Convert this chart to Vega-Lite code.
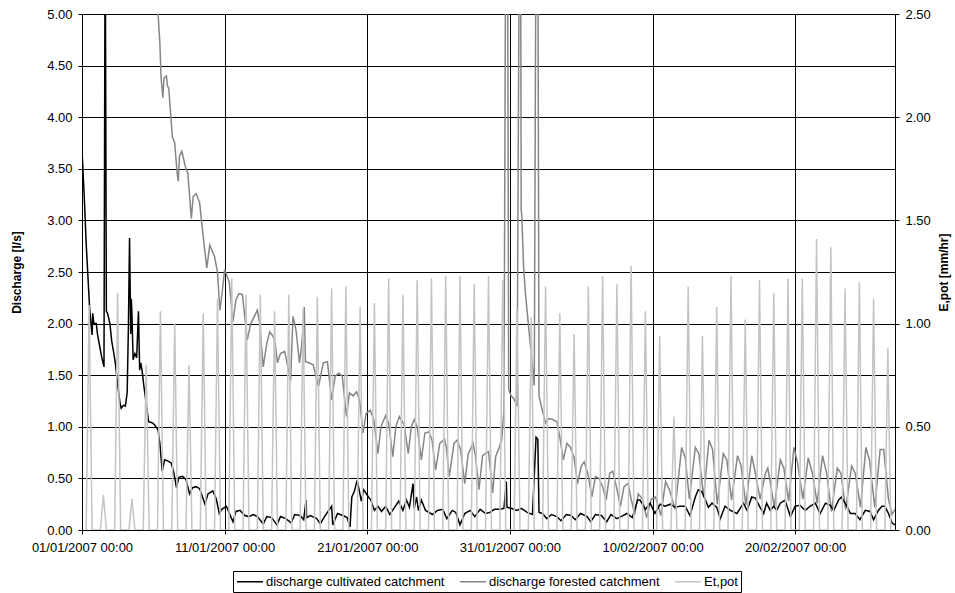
{
"$schema":"https://vega.github.io/schema/vega-lite/v6.json",
"width":813,"height":516,
"autosize":{"type":"none"},
"padding":{"left":82,"top":14,"right":60,"bottom":63},
"config":{
"font":"Liberation Sans",
"view":{"stroke":"#000","strokeWidth":1},
"axis":{"labelFont":"Liberation Sans","labelFontSize":13,"labelColor":"#000","titleFont":"Liberation Sans","titleFontSize":12,"titleFontWeight":"bold","titleColor":"#000","domainColor":"#000","tickColor":"#000","gridColor":"#000","gridOpacity":1,"gridWidth":1,"tickSize":4,"domainWidth":1}
},
"datasets":{
"cult":[
{"t":"2007-01-01T00:00","v":3.68},{"t":"2007-01-01T04:00","v":3.2},{"t":"2007-01-01T07:00","v":2.78},{"t":"2007-01-01T13:00","v":2.13},{"t":"2007-01-01T17:00","v":1.89},{"t":"2007-01-01T18:00","v":2.1},{"t":"2007-01-01T20:00","v":2.0},{"t":"2007-01-02T00:00","v":2.0},{"t":"2007-01-02T02:00","v":1.9},{"t":"2007-01-02T09:00","v":1.68},{"t":"2007-01-02T13:00","v":1.58},{"t":"2007-01-02T15:00","v":6.0},{"t":"2007-01-02T17:00","v":2.12},{"t":"2007-01-02T19:00","v":2.1},{"t":"2007-01-02T23:00","v":2.0},
{"t":"2007-01-03T02:00","v":1.83},{"t":"2007-01-03T05:00","v":1.73},{"t":"2007-01-03T08:00","v":1.62},{"t":"2007-01-03T12:00","v":1.41},{"t":"2007-01-03T16:00","v":1.23},{"t":"2007-01-03T18:00","v":1.18},{"t":"2007-01-03T22:00","v":1.21},
{"t":"2007-01-04T01:00","v":1.2},{"t":"2007-01-04T04:00","v":1.33},{"t":"2007-01-04T06:00","v":1.94},{"t":"2007-01-04T08:00","v":2.83},{"t":"2007-01-04T10:00","v":1.9},{"t":"2007-01-04T11:00","v":2.24},{"t":"2007-01-04T12:00","v":2.1},{"t":"2007-01-04T14:00","v":1.65},{"t":"2007-01-04T17:00","v":1.71},{"t":"2007-01-04T20:00","v":1.67},{"t":"2007-01-04T23:00","v":2.12},
{"t":"2007-01-05T01:00","v":1.55},{"t":"2007-01-05T03:00","v":1.62},{"t":"2007-01-05T05:00","v":1.55},{"t":"2007-01-05T08:00","v":1.4},{"t":"2007-01-05T12:00","v":1.23},{"t":"2007-01-05T16:00","v":1.05},{"t":"2007-01-05T22:00","v":1.04},
{"t":"2007-01-06T02:00","v":1.02},{"t":"2007-01-06T08:00","v":0.97},{"t":"2007-01-06T11:00","v":0.84},{"t":"2007-01-06T15:00","v":0.57},{"t":"2007-01-06T19:00","v":0.68},
{"t":"2007-01-07T00:00","v":0.67},{"t":"2007-01-07T06:00","v":0.65},{"t":"2007-01-07T10:00","v":0.57},{"t":"2007-01-07T15:00","v":0.41},{"t":"2007-01-07T19:00","v":0.51},
{"t":"2007-01-08T01:00","v":0.52},{"t":"2007-01-08T07:00","v":0.49},{"t":"2007-01-08T13:00","v":0.35},{"t":"2007-01-08T18:00","v":0.41},
{"t":"2007-01-09T00:00","v":0.42},{"t":"2007-01-09T06:00","v":0.4},{"t":"2007-01-09T15:00","v":0.25},{"t":"2007-01-09T20:00","v":0.35},
{"t":"2007-01-10T04:00","v":0.38},{"t":"2007-01-10T10:00","v":0.3},{"t":"2007-01-10T15:00","v":0.16},{"t":"2007-01-10T19:00","v":0.2},
{"t":"2007-01-11T03:00","v":0.23},{"t":"2007-01-11T14:00","v":0.08},{"t":"2007-01-11T19:00","v":0.18},
{"t":"2007-01-12T02:00","v":0.19},{"t":"2007-01-12T10:00","v":0.14},{"t":"2007-01-12T17:00","v":0.13},
{"t":"2007-01-13T00:00","v":0.15},{"t":"2007-01-13T07:00","v":0.13},{"t":"2007-01-13T17:00","v":0.06},{"t":"2007-01-13T23:00","v":0.13},
{"t":"2007-01-14T07:00","v":0.12},{"t":"2007-01-14T16:00","v":0.05},{"t":"2007-01-14T22:00","v":0.13},
{"t":"2007-01-15T07:00","v":0.11},{"t":"2007-01-15T16:00","v":0.07},{"t":"2007-01-15T22:00","v":0.15},
{"t":"2007-01-16T07:00","v":0.14},{"t":"2007-01-16T13:00","v":0.1},{"t":"2007-01-16T17:00","v":0.29},{"t":"2007-01-16T18:00","v":0.12},
{"t":"2007-01-17T00:00","v":0.14},{"t":"2007-01-17T11:00","v":0.11},{"t":"2007-01-17T17:00","v":0.06},
{"t":"2007-01-18T00:00","v":0.13},{"t":"2007-01-18T12:00","v":0.23},{"t":"2007-01-18T14:00","v":0.05},{"t":"2007-01-18T22:00","v":0.16},
{"t":"2007-01-19T07:00","v":0.14},{"t":"2007-01-19T14:00","v":0.12},{"t":"2007-01-19T19:00","v":0.03},{"t":"2007-01-19T22:00","v":0.32},
{"t":"2007-01-20T02:00","v":0.37},{"t":"2007-01-20T07:00","v":0.48},{"t":"2007-01-20T11:00","v":0.37},{"t":"2007-01-20T14:00","v":0.28},{"t":"2007-01-20T18:00","v":0.39},
{"t":"2007-01-21T02:00","v":0.32},{"t":"2007-01-21T06:00","v":0.29},{"t":"2007-01-21T12:00","v":0.19},{"t":"2007-01-21T18:00","v":0.23},
{"t":"2007-01-22T00:00","v":0.18},{"t":"2007-01-22T07:00","v":0.23},{"t":"2007-01-22T14:00","v":0.15},{"t":"2007-01-22T22:00","v":0.22},
{"t":"2007-01-23T05:00","v":0.28},{"t":"2007-01-23T12:00","v":0.19},{"t":"2007-01-23T18:00","v":0.29},{"t":"2007-01-23T23:00","v":0.22},
{"t":"2007-01-24T05:00","v":0.45},{"t":"2007-01-24T07:00","v":0.21},{"t":"2007-01-24T11:00","v":0.32},{"t":"2007-01-24T14:00","v":0.19},{"t":"2007-01-24T19:00","v":0.29},
{"t":"2007-01-25T02:00","v":0.19},{"t":"2007-01-25T14:00","v":0.15},{"t":"2007-01-25T22:00","v":0.19},
{"t":"2007-01-26T07:00","v":0.2},{"t":"2007-01-26T14:00","v":0.11},{"t":"2007-01-26T23:00","v":0.19},
{"t":"2007-01-27T05:00","v":0.17},{"t":"2007-01-27T12:00","v":0.05},{"t":"2007-01-27T20:00","v":0.16},
{"t":"2007-01-28T05:00","v":0.19},{"t":"2007-01-28T13:00","v":0.13},{"t":"2007-01-28T22:00","v":0.2},
{"t":"2007-01-29T07:00","v":0.16},{"t":"2007-01-29T14:00","v":0.17},{"t":"2007-01-29T22:00","v":0.2},
{"t":"2007-01-30T07:00","v":0.2},{"t":"2007-01-30T14:00","v":0.21},{"t":"2007-01-30T18:00","v":0.47},{"t":"2007-01-30T19:00","v":0.22},
{"t":"2007-01-31T02:00","v":0.21},{"t":"2007-01-31T12:00","v":0.19},{"t":"2007-01-31T19:00","v":0.21},
{"t":"2007-02-01T05:00","v":0.17},{"t":"2007-02-01T14:00","v":0.15},{"t":"2007-02-01T20:00","v":0.9},{"t":"2007-02-01T23:00","v":0.88},
{"t":"2007-02-02T01:00","v":0.17},{"t":"2007-02-02T07:00","v":0.16},{"t":"2007-02-02T14:00","v":0.11},{"t":"2007-02-02T22:00","v":0.15},
{"t":"2007-02-03T07:00","v":0.13},{"t":"2007-02-03T14:00","v":0.09},{"t":"2007-02-03T23:00","v":0.15},
{"t":"2007-02-04T07:00","v":0.14},{"t":"2007-02-04T14:00","v":0.1},{"t":"2007-02-04T23:00","v":0.16},
{"t":"2007-02-05T10:00","v":0.13},{"t":"2007-02-05T16:00","v":0.08},
{"t":"2007-02-06T00:00","v":0.15},{"t":"2007-02-06T10:00","v":0.14},{"t":"2007-02-06T19:00","v":0.08},
{"t":"2007-02-07T02:00","v":0.15},{"t":"2007-02-07T12:00","v":0.11},{"t":"2007-02-07T19:00","v":0.13},
{"t":"2007-02-08T05:00","v":0.16},{"t":"2007-02-08T14:00","v":0.12},{"t":"2007-02-08T23:00","v":0.29},
{"t":"2007-02-09T03:00","v":0.29},{"t":"2007-02-09T12:00","v":0.2},{"t":"2007-02-09T20:00","v":0.26},
{"t":"2007-02-10T04:00","v":0.16},{"t":"2007-02-10T13:00","v":0.25},{"t":"2007-02-10T21:00","v":0.23},
{"t":"2007-02-11T06:00","v":0.25},{"t":"2007-02-11T14:00","v":0.22},{"t":"2007-02-11T22:00","v":0.23},
{"t":"2007-02-12T07:00","v":0.23},{"t":"2007-02-12T15:00","v":0.14},
{"t":"2007-02-13T00:00","v":0.32},{"t":"2007-02-13T05:00","v":0.39},{"t":"2007-02-13T11:00","v":0.37},{"t":"2007-02-13T17:00","v":0.29},{"t":"2007-02-13T22:00","v":0.22},
{"t":"2007-02-14T04:00","v":0.26},{"t":"2007-02-14T12:00","v":0.22},{"t":"2007-02-14T18:00","v":0.11},
{"t":"2007-02-15T02:00","v":0.23},{"t":"2007-02-15T11:00","v":0.19},{"t":"2007-02-15T22:00","v":0.16},
{"t":"2007-02-16T09:00","v":0.26},{"t":"2007-02-16T15:00","v":0.19},{"t":"2007-02-16T23:00","v":0.32},
{"t":"2007-02-17T05:00","v":0.31},{"t":"2007-02-17T13:00","v":0.22},{"t":"2007-02-17T19:00","v":0.16},
{"t":"2007-02-18T00:00","v":0.26},{"t":"2007-02-18T06:00","v":0.19},{"t":"2007-02-18T12:00","v":0.23},{"t":"2007-02-18T17:00","v":0.19},{"t":"2007-02-18T23:00","v":0.26},
{"t":"2007-02-19T07:00","v":0.29},{"t":"2007-02-19T16:00","v":0.13},
{"t":"2007-02-20T00:00","v":0.23},{"t":"2007-02-20T08:00","v":0.24},{"t":"2007-02-20T17:00","v":0.19},
{"t":"2007-02-21T01:00","v":0.23},{"t":"2007-02-21T10:00","v":0.26},{"t":"2007-02-21T18:00","v":0.16},
{"t":"2007-02-22T03:00","v":0.26},{"t":"2007-02-22T11:00","v":0.24},{"t":"2007-02-22T17:00","v":0.19},
{"t":"2007-02-23T01:00","v":0.29},{"t":"2007-02-23T06:00","v":0.32},{"t":"2007-02-23T15:00","v":0.23},{"t":"2007-02-23T21:00","v":0.16},
{"t":"2007-02-24T05:00","v":0.16},{"t":"2007-02-24T13:00","v":0.1},{"t":"2007-02-24T22:00","v":0.19},
{"t":"2007-02-25T06:00","v":0.18},{"t":"2007-02-25T12:00","v":0.1},{"t":"2007-02-25T20:00","v":0.19},
{"t":"2007-02-26T02:00","v":0.23},{"t":"2007-02-26T07:00","v":0.23},{"t":"2007-02-26T13:00","v":0.16},{"t":"2007-02-26T19:00","v":0.07},
{"t":"2007-02-27T00:00","v":0.05}
],
"forest":[
{"t":"2007-01-01T00:00","v":8.0},{"t":"2007-01-03T12:00","v":6.5},{"t":"2007-01-06T08:00","v":5.0},{"t":"2007-01-06T11:00","v":4.72},{"t":"2007-01-06T13:00","v":4.39},{"t":"2007-01-06T16:00","v":4.19},{"t":"2007-01-06T18:00","v":4.38},{"t":"2007-01-06T22:00","v":4.4},
{"t":"2007-01-07T00:00","v":4.3},{"t":"2007-01-07T02:00","v":4.28},{"t":"2007-01-07T08:00","v":3.81},{"t":"2007-01-07T12:00","v":3.75},{"t":"2007-01-07T16:00","v":3.46},{"t":"2007-01-07T18:00","v":3.38},{"t":"2007-01-07T20:00","v":3.62},
{"t":"2007-01-08T00:00","v":3.67},{"t":"2007-01-08T06:00","v":3.52},{"t":"2007-01-08T10:00","v":3.46},{"t":"2007-01-08T16:00","v":3.02},{"t":"2007-01-08T19:00","v":3.23},
{"t":"2007-01-09T00:00","v":3.26},{"t":"2007-01-09T06:00","v":3.17},{"t":"2007-01-09T12:00","v":2.84},{"t":"2007-01-09T18:00","v":2.54},{"t":"2007-01-09T23:00","v":2.76},
{"t":"2007-01-10T02:00","v":2.72},{"t":"2007-01-10T07:00","v":2.65},{"t":"2007-01-10T12:00","v":2.5},{"t":"2007-01-10T16:00","v":2.13},{"t":"2007-01-10T19:00","v":2.26},
{"t":"2007-01-11T00:00","v":2.52},{"t":"2007-01-11T05:00","v":2.45},{"t":"2007-01-11T08:00","v":2.39},{"t":"2007-01-11T14:00","v":2.02},{"t":"2007-01-11T19:00","v":2.23},
{"t":"2007-01-12T00:00","v":2.29},{"t":"2007-01-12T06:00","v":2.28},{"t":"2007-01-12T14:00","v":1.84},{"t":"2007-01-12T20:00","v":2.0},
{"t":"2007-01-13T02:00","v":2.07},{"t":"2007-01-13T07:00","v":2.13},{"t":"2007-01-13T11:00","v":2.0},{"t":"2007-01-13T17:00","v":1.58},{"t":"2007-01-13T23:00","v":1.81},
{"t":"2007-01-14T04:00","v":1.92},{"t":"2007-01-14T10:00","v":1.87},{"t":"2007-01-14T13:00","v":1.81},{"t":"2007-01-14T17:00","v":1.62},{"t":"2007-01-14T22:00","v":1.71},
{"t":"2007-01-15T05:00","v":1.73},{"t":"2007-01-15T15:00","v":1.45},{"t":"2007-01-15T19:00","v":2.07},{"t":"2007-01-15T22:00","v":2.0},
{"t":"2007-01-16T00:00","v":1.94},{"t":"2007-01-16T06:00","v":1.62},{"t":"2007-01-16T10:00","v":1.81},{"t":"2007-01-16T14:00","v":2.16},{"t":"2007-01-16T16:00","v":1.63},{"t":"2007-01-16T22:00","v":1.62},
{"t":"2007-01-17T05:00","v":1.6},{"t":"2007-01-17T14:00","v":1.39},{"t":"2007-01-17T22:00","v":1.62},
{"t":"2007-01-18T05:00","v":1.63},{"t":"2007-01-18T12:00","v":1.26},{"t":"2007-01-18T18:00","v":1.49},
{"t":"2007-01-19T00:00","v":1.52},{"t":"2007-01-19T06:00","v":1.49},{"t":"2007-01-19T13:00","v":1.1},{"t":"2007-01-19T18:00","v":1.33},
{"t":"2007-01-20T00:00","v":1.3},{"t":"2007-01-20T06:00","v":1.34},{"t":"2007-01-20T11:00","v":1.26},{"t":"2007-01-20T17:00","v":0.94},{"t":"2007-01-20T22:00","v":1.13},
{"t":"2007-01-21T05:00","v":1.16},{"t":"2007-01-21T11:00","v":1.07},{"t":"2007-01-21T18:00","v":0.74},{"t":"2007-01-21T23:00","v":1.0},
{"t":"2007-01-22T07:00","v":1.11},{"t":"2007-01-22T12:00","v":1.03},{"t":"2007-01-22T19:00","v":0.71},
{"t":"2007-01-23T00:00","v":1.0},{"t":"2007-01-23T06:00","v":1.1},{"t":"2007-01-23T14:00","v":1.02},{"t":"2007-01-23T21:00","v":0.74},
{"t":"2007-01-24T02:00","v":1.0},{"t":"2007-01-24T07:00","v":1.07},{"t":"2007-01-24T12:00","v":1.0},{"t":"2007-01-24T19:00","v":0.68},
{"t":"2007-01-25T01:00","v":0.94},{"t":"2007-01-25T08:00","v":0.95},{"t":"2007-01-25T13:00","v":0.87},{"t":"2007-01-25T19:00","v":0.58},
{"t":"2007-01-26T02:00","v":0.84},{"t":"2007-01-26T10:00","v":0.88},{"t":"2007-01-26T13:00","v":0.8},{"t":"2007-01-26T18:00","v":0.52},
{"t":"2007-01-27T02:00","v":0.84},{"t":"2007-01-27T07:00","v":0.87},{"t":"2007-01-27T13:00","v":0.78},{"t":"2007-01-27T20:00","v":0.45},
{"t":"2007-01-28T02:00","v":0.74},{"t":"2007-01-28T10:00","v":0.84},{"t":"2007-01-28T14:00","v":0.72},{"t":"2007-01-28T20:00","v":0.39},
{"t":"2007-01-29T02:00","v":0.72},{"t":"2007-01-29T07:00","v":0.74},{"t":"2007-01-29T12:00","v":0.76},{"t":"2007-01-29T14:00","v":0.65},{"t":"2007-01-29T19:00","v":0.36},
{"t":"2007-01-30T00:00","v":0.71},{"t":"2007-01-30T06:00","v":0.8},{"t":"2007-01-30T10:00","v":0.87},{"t":"2007-01-30T14:00","v":1.16},{"t":"2007-01-30T17:00","v":6.0},{"t":"2007-01-30T20:00","v":6.0},{"t":"2007-01-30T22:00","v":1.36},
{"t":"2007-01-31T02:00","v":1.3},{"t":"2007-01-31T07:00","v":1.27},{"t":"2007-01-31T12:00","v":1.2},{"t":"2007-01-31T16:00","v":6.0},{"t":"2007-01-31T18:00","v":6.0},{"t":"2007-01-31T19:00","v":3.1},{"t":"2007-01-31T20:00","v":3.04},{"t":"2007-01-31T23:00","v":2.56},
{"t":"2007-02-01T02:00","v":2.3},{"t":"2007-02-01T07:00","v":2.0},{"t":"2007-02-01T12:00","v":1.7},{"t":"2007-02-01T17:00","v":1.4},{"t":"2007-02-01T20:00","v":6.0},{"t":"2007-02-01T23:00","v":6.0},
{"t":"2007-02-02T01:00","v":1.3},{"t":"2007-02-02T07:00","v":1.15},{"t":"2007-02-02T12:00","v":1.04},{"t":"2007-02-02T17:00","v":1.08},
{"t":"2007-02-03T00:00","v":1.07},{"t":"2007-02-03T07:00","v":1.05},{"t":"2007-02-03T12:00","v":0.9},{"t":"2007-02-03T18:00","v":0.68},
{"t":"2007-02-04T00:00","v":0.84},{"t":"2007-02-04T06:00","v":0.8},{"t":"2007-02-04T12:00","v":0.7},{"t":"2007-02-04T18:00","v":0.45},
{"t":"2007-02-05T00:00","v":0.62},{"t":"2007-02-05T05:00","v":0.66},{"t":"2007-02-05T11:00","v":0.55},{"t":"2007-02-05T18:00","v":0.32},
{"t":"2007-02-06T00:00","v":0.52},{"t":"2007-02-06T06:00","v":0.5},{"t":"2007-02-06T12:00","v":0.42},{"t":"2007-02-06T18:00","v":0.29},
{"t":"2007-02-07T00:00","v":0.55},{"t":"2007-02-07T05:00","v":0.57},{"t":"2007-02-07T12:00","v":0.4},{"t":"2007-02-07T18:00","v":0.23},
{"t":"2007-02-08T00:00","v":0.42},{"t":"2007-02-08T07:00","v":0.45},{"t":"2007-02-08T12:00","v":0.3},{"t":"2007-02-08T18:00","v":0.15},
{"t":"2007-02-09T00:00","v":0.35},{"t":"2007-02-09T07:00","v":0.3},{"t":"2007-02-09T14:00","v":0.12},{"t":"2007-02-09T22:00","v":0.3},
{"t":"2007-02-10T05:00","v":0.32},{"t":"2007-02-10T14:00","v":0.14},{"t":"2007-02-10T22:00","v":0.47},
{"t":"2007-02-11T05:00","v":0.38},{"t":"2007-02-11T14:00","v":0.2},
{"t":"2007-02-12T01:00","v":0.8},{"t":"2007-02-12T07:00","v":0.7},{"t":"2007-02-12T14:00","v":0.3},
{"t":"2007-02-13T00:00","v":0.8},{"t":"2007-02-13T06:00","v":0.74},{"t":"2007-02-13T14:00","v":0.32},{"t":"2007-02-13T23:00","v":0.87},
{"t":"2007-02-14T05:00","v":0.78},{"t":"2007-02-14T13:00","v":0.25},{"t":"2007-02-14T23:00","v":0.74},
{"t":"2007-02-15T05:00","v":0.68},{"t":"2007-02-15T13:00","v":0.29},{"t":"2007-02-15T23:00","v":0.72},
{"t":"2007-02-16T05:00","v":0.62},{"t":"2007-02-16T13:00","v":0.24},{"t":"2007-02-16T23:00","v":0.72},
{"t":"2007-02-17T05:00","v":0.55},{"t":"2007-02-17T13:00","v":0.3},{"t":"2007-02-17T22:00","v":0.55},
{"t":"2007-02-18T02:00","v":0.6},{"t":"2007-02-18T13:00","v":0.22},{"t":"2007-02-18T23:00","v":0.68},
{"t":"2007-02-19T05:00","v":0.6},{"t":"2007-02-19T13:00","v":0.28},{"t":"2007-02-19T22:00","v":0.8},
{"t":"2007-02-20T04:00","v":0.65},{"t":"2007-02-20T13:00","v":0.3},{"t":"2007-02-20T22:00","v":0.7},
{"t":"2007-02-21T05:00","v":0.55},{"t":"2007-02-21T13:00","v":0.26},{"t":"2007-02-21T22:00","v":0.72},
{"t":"2007-02-22T05:00","v":0.55},{"t":"2007-02-22T13:00","v":0.18},{"t":"2007-02-22T23:00","v":0.6},
{"t":"2007-02-23T05:00","v":0.55},{"t":"2007-02-23T13:00","v":0.2},{"t":"2007-02-23T23:00","v":0.62},
{"t":"2007-02-24T05:00","v":0.55},{"t":"2007-02-24T14:00","v":0.22},{"t":"2007-02-24T23:00","v":0.8},
{"t":"2007-02-25T05:00","v":0.68},{"t":"2007-02-25T14:00","v":0.22},{"t":"2007-02-25T23:00","v":0.78},
{"t":"2007-02-26T05:00","v":0.78},{"t":"2007-02-26T13:00","v":0.3},{"t":"2007-02-26T19:00","v":0.15},{"t":"2007-02-27T00:00","v":0.2}
],
"et":[
{"t":"2007-01-01T07:00","v":0},{"t":"2007-01-01T12:00","v":1.09},{"t":"2007-01-01T17:00","v":0},
{"t":"2007-01-02T07:00","v":0},{"t":"2007-01-02T12:00","v":0.17},{"t":"2007-01-02T17:00","v":0},
{"t":"2007-01-03T07:00","v":0},{"t":"2007-01-03T12:00","v":1.15},{"t":"2007-01-03T17:00","v":0},
{"t":"2007-01-04T07:00","v":0},{"t":"2007-01-04T12:00","v":0.15},{"t":"2007-01-04T17:00","v":0},
{"t":"2007-01-05T07:00","v":0},{"t":"2007-01-05T12:00","v":0.8},{"t":"2007-01-05T17:00","v":0},
{"t":"2007-01-06T07:00","v":0},{"t":"2007-01-06T12:00","v":1.06},{"t":"2007-01-06T17:00","v":0},
{"t":"2007-01-07T07:00","v":0},{"t":"2007-01-07T12:00","v":1.0},{"t":"2007-01-07T17:00","v":0},
{"t":"2007-01-08T07:00","v":0},{"t":"2007-01-08T12:00","v":0.8},{"t":"2007-01-08T17:00","v":0},
{"t":"2007-01-09T07:00","v":0},{"t":"2007-01-09T12:00","v":1.05},{"t":"2007-01-09T17:00","v":0},
{"t":"2007-01-10T07:00","v":0},{"t":"2007-01-10T12:00","v":1.12},{"t":"2007-01-10T17:00","v":0},
{"t":"2007-01-11T07:00","v":0},{"t":"2007-01-11T12:00","v":1.22},{"t":"2007-01-11T17:00","v":0},
{"t":"2007-01-12T07:00","v":0},{"t":"2007-01-12T12:00","v":1.14},{"t":"2007-01-12T17:00","v":0},
{"t":"2007-01-13T07:00","v":0},{"t":"2007-01-13T12:00","v":1.14},{"t":"2007-01-13T17:00","v":0},
{"t":"2007-01-14T07:00","v":0},{"t":"2007-01-14T12:00","v":1.06},{"t":"2007-01-14T17:00","v":0},
{"t":"2007-01-15T07:00","v":0},{"t":"2007-01-15T12:00","v":1.14},{"t":"2007-01-15T17:00","v":0},
{"t":"2007-01-16T07:00","v":0},{"t":"2007-01-16T12:00","v":1.07},{"t":"2007-01-16T17:00","v":0},
{"t":"2007-01-17T07:00","v":0},{"t":"2007-01-17T12:00","v":1.13},{"t":"2007-01-17T17:00","v":0},
{"t":"2007-01-18T07:00","v":0},{"t":"2007-01-18T12:00","v":1.17},{"t":"2007-01-18T17:00","v":0},
{"t":"2007-01-19T07:00","v":0},{"t":"2007-01-19T12:00","v":1.18},{"t":"2007-01-19T17:00","v":0},
{"t":"2007-01-20T07:00","v":0},{"t":"2007-01-20T12:00","v":1.08},{"t":"2007-01-20T17:00","v":0},
{"t":"2007-01-21T07:00","v":0},{"t":"2007-01-21T12:00","v":1.1},{"t":"2007-01-21T17:00","v":0},
{"t":"2007-01-22T07:00","v":0},{"t":"2007-01-22T12:00","v":1.22},{"t":"2007-01-22T17:00","v":0},
{"t":"2007-01-23T07:00","v":0},{"t":"2007-01-23T12:00","v":1.14},{"t":"2007-01-23T17:00","v":0},
{"t":"2007-01-24T07:00","v":0},{"t":"2007-01-24T12:00","v":1.21},{"t":"2007-01-24T17:00","v":0},
{"t":"2007-01-25T07:00","v":0},{"t":"2007-01-25T12:00","v":1.22},{"t":"2007-01-25T17:00","v":0},
{"t":"2007-01-26T07:00","v":0},{"t":"2007-01-26T12:00","v":1.23},{"t":"2007-01-26T17:00","v":0},
{"t":"2007-01-27T07:00","v":0},{"t":"2007-01-27T12:00","v":1.23},{"t":"2007-01-27T17:00","v":0},
{"t":"2007-01-28T07:00","v":0},{"t":"2007-01-28T12:00","v":1.19},{"t":"2007-01-28T17:00","v":0},
{"t":"2007-01-29T07:00","v":0},{"t":"2007-01-29T12:00","v":1.23},{"t":"2007-01-29T17:00","v":0},
{"t":"2007-01-30T07:00","v":0},{"t":"2007-01-30T12:00","v":1.21},{"t":"2007-01-30T17:00","v":0},
{"t":"2007-01-31T07:00","v":0},{"t":"2007-01-31T12:00","v":1.07},{"t":"2007-01-31T17:00","v":0},
{"t":"2007-02-01T07:00","v":0},{"t":"2007-02-01T12:00","v":1.03},{"t":"2007-02-01T17:00","v":0},
{"t":"2007-02-02T07:00","v":0},{"t":"2007-02-02T12:00","v":1.18},{"t":"2007-02-02T17:00","v":0},
{"t":"2007-02-03T07:00","v":0},{"t":"2007-02-03T12:00","v":1.05},{"t":"2007-02-03T17:00","v":0},
{"t":"2007-02-04T07:00","v":0},{"t":"2007-02-04T12:00","v":0.95},{"t":"2007-02-04T17:00","v":0},
{"t":"2007-02-05T07:00","v":0},{"t":"2007-02-05T12:00","v":1.18},{"t":"2007-02-05T17:00","v":0},
{"t":"2007-02-06T07:00","v":0},{"t":"2007-02-06T12:00","v":1.23},{"t":"2007-02-06T17:00","v":0},
{"t":"2007-02-07T07:00","v":0},{"t":"2007-02-07T12:00","v":1.19},{"t":"2007-02-07T17:00","v":0},
{"t":"2007-02-08T07:00","v":0},{"t":"2007-02-08T12:00","v":1.28},{"t":"2007-02-08T17:00","v":0},
{"t":"2007-02-09T07:00","v":0},{"t":"2007-02-09T12:00","v":1.06},{"t":"2007-02-09T17:00","v":0},
{"t":"2007-02-10T07:00","v":0},{"t":"2007-02-10T12:00","v":0.94},{"t":"2007-02-10T17:00","v":0},
{"t":"2007-02-11T07:00","v":0},{"t":"2007-02-11T12:00","v":0.55},{"t":"2007-02-11T17:00","v":0},
{"t":"2007-02-12T07:00","v":0},{"t":"2007-02-12T12:00","v":1.18},{"t":"2007-02-12T17:00","v":0},
{"t":"2007-02-13T07:00","v":0},{"t":"2007-02-13T12:00","v":0.94},{"t":"2007-02-13T17:00","v":0},
{"t":"2007-02-14T07:00","v":0},{"t":"2007-02-14T12:00","v":1.08},{"t":"2007-02-14T17:00","v":0},
{"t":"2007-02-15T07:00","v":0},{"t":"2007-02-15T12:00","v":1.23},{"t":"2007-02-15T17:00","v":0},
{"t":"2007-02-16T07:00","v":0},{"t":"2007-02-16T12:00","v":1.02},{"t":"2007-02-16T17:00","v":0},
{"t":"2007-02-17T07:00","v":0},{"t":"2007-02-17T12:00","v":1.21},{"t":"2007-02-17T17:00","v":0},
{"t":"2007-02-18T07:00","v":0},{"t":"2007-02-18T12:00","v":1.15},{"t":"2007-02-18T17:00","v":0},
{"t":"2007-02-19T07:00","v":0},{"t":"2007-02-19T12:00","v":1.22},{"t":"2007-02-19T17:00","v":0},
{"t":"2007-02-20T07:00","v":0},{"t":"2007-02-20T12:00","v":1.22},{"t":"2007-02-20T17:00","v":0},
{"t":"2007-02-21T07:00","v":0},{"t":"2007-02-21T12:00","v":1.41},{"t":"2007-02-21T17:00","v":0},
{"t":"2007-02-22T07:00","v":0},{"t":"2007-02-22T12:00","v":1.37},{"t":"2007-02-22T17:00","v":0},
{"t":"2007-02-23T07:00","v":0},{"t":"2007-02-23T12:00","v":1.17},{"t":"2007-02-23T17:00","v":0},
{"t":"2007-02-24T07:00","v":0},{"t":"2007-02-24T12:00","v":1.2},{"t":"2007-02-24T17:00","v":0},
{"t":"2007-02-25T07:00","v":0},{"t":"2007-02-25T12:00","v":1.12},{"t":"2007-02-25T17:00","v":0},
{"t":"2007-02-26T07:00","v":0},{"t":"2007-02-26T12:00","v":0.88},{"t":"2007-02-26T17:00","v":0}
]
},
"encoding":{
"x":{"field":"t","type":"temporal",
"scale":{"domain":[{"year":2007,"month":1,"date":1},{"year":2007,"month":2,"date":27}]},
"axis":{"title":null,"values":[{"year":2007,"month":1,"date":1},{"year":2007,"month":1,"date":11},{"year":2007,"month":1,"date":21},{"year":2007,"month":1,"date":31},{"year":2007,"month":2,"date":10},{"year":2007,"month":2,"date":20}],"format":"%d/%m/%Y %H:%M","grid":true,"labelFlush":false,"labelOverlap":false,"labelBound":false,"tickSize":4,"labelPadding":7}}
},
"layer":[
{
"encoding":{
"y":{"field":"v","type":"quantitative",
"scale":{"domain":[0,5],"nice":false},
"axis":{"title":"Discharge [l/s]","values":[0,0.5,1,1.5,2,2.5,3,3.5,4,4.5,5],"format":".2f","grid":true,"tickSize":4,"labelPadding":6,"titleAngle":-90,"titleX":-66,"titleY":258,"titleBaseline":"middle","titleAlign":"center"}}
},
"layer":[
{"data":{"name":"forest"},"mark":{"type":"line","clip":true,"strokeWidth":1.5},
"encoding":{"color":{"datum":"discharge forested catchment","type":"nominal",
"scale":{"domain":["discharge cultivated catchment","discharge forested catchment","Et,pot"],"range":["#000000","#868686","#c4c4c4"]},
"legend":{"orient":"none","legendX":151,"legendY":557,"direction":"horizontal","title":null,"symbolType":"M-1,0H3","symbolSize":169,"symbolStrokeWidth":1.5,"labelFontSize":13,"labelColor":"#000","labelFont":"Liberation Sans","labelLimit":0,"labelOffset":15,"columnPadding":12,"padding":3,"strokeColor":"#000","fillColor":"#fff"}}}},
{"data":{"name":"cult"},"mark":{"type":"line","clip":true,"strokeWidth":1.5},
"encoding":{"color":{"datum":"discharge cultivated catchment","type":"nominal"}}}
]
},
{"data":{"name":"et"},"mark":{"type":"line","clip":true,"strokeWidth":1.5},
"encoding":{
"y":{"field":"v","type":"quantitative",
"scale":{"domain":[0,2.5],"nice":false},
"axis":{"orient":"right","title":"E,pot [mm/hr]","values":[0,0.5,1,1.5,2,2.5],"format":".2f","grid":false,"tickSize":4,"labelPadding":6,"titleAngle":-90,"titleX":48,"titleY":258,"titleBaseline":"middle","titleAlign":"center"}},
"color":{"datum":"Et,pot","type":"nominal"}}}
],
"resolve":{"scale":{"y":"independent"}}
}
